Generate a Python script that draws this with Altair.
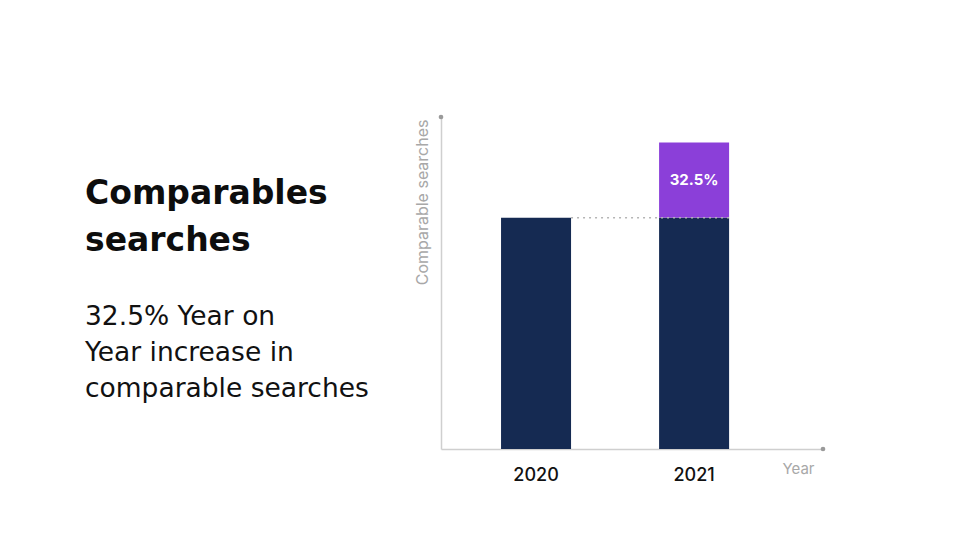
import altair as alt
import pandas as pd

# ---- data ----
years = ["2020", "2021"]
base_values = [100, 100]          # indexed level of comparable searches
increase_values = [0, 32.5]       # year-on-year increase on top of the base
increase_labels = ["", "32.5%"]
segments = ["Base", "Increase"]
segment_colors = ["#152a52", "#8b3fd9"]

title_lines = "Comparables\nsearches"
subtitle_lines = "32.5% Year on\nYear increase in\ncomparable searches"

rows = []
for yr, b, inc, lab in zip(years, base_values, increase_values, increase_labels):
    rows.append({"year": yr, "segment": "Base", "start": 0, "end": b, "label": ""})
    if inc > 0:
        rows.append({"year": yr, "segment": "Increase", "start": b, "end": b + inc, "label": lab})
bars_df = pd.DataFrame(rows)
level_df = pd.DataFrame({"year": years, "start": [base_values[0]] * len(years)})

FONT = "Inter"
PROSE_FONT = "DejaVu Sans"

x_enc = alt.X(
    "year:N",
    title="Year",
    scale=alt.Scale(paddingInner=0.557, paddingOuter=0.487, align=0.39),
)
y_scale = alt.Scale(domain=[0, 143.5])

bars = alt.Chart(bars_df).mark_bar().encode(
    x=x_enc,
    y=alt.Y("start:Q", title="Comparable searches", scale=y_scale),
    y2="end:Q",
    color=alt.Color("segment:N", scale=alt.Scale(domain=segments, range=segment_colors), legend=None),
)

level_line = alt.Chart(level_df).mark_line(
    color="#b5b5b5", strokeDash=[2, 4], strokeWidth=1.5
).encode(
    x=alt.X("year:N", title="Year", bandPosition=1),
    y=alt.Y("start:Q", title="Comparable searches", scale=y_scale),
)

labels = alt.Chart(bars_df).transform_filter(
    alt.datum.label != ""
).transform_calculate(
    mid="(datum.start + datum.end) / 2"
).mark_text(
    color="white", font=FONT, fontSize=15, fontWeight="bold", baseline="middle"
).encode(
    x=alt.X("year:N", title="Year"),
    y=alt.Y("mid:Q", title="Comparable searches", scale=y_scale),
    text="label:N",
)

one = alt.Data(values=[{}])
top_dot = alt.Chart(one).mark_point(filled=True, color="#9a9a9a", size=22, opacity=1).encode(
    x=alt.value(0), y=alt.value(0)
)
right_dot = alt.Chart(one).mark_point(filled=True, color="#9a9a9a", size=22, opacity=1).encode(
    x=alt.value("width"), y=alt.value("height")
)

title_text = alt.Chart(one).mark_text(
    align="left", baseline="alphabetic", font=PROSE_FONT, fontSize=33, fontWeight="bold",
    color="#0d0d0d", lineBreak="\n", lineHeight=47,
).encode(x=alt.value(-356), y=alt.value(87), text=alt.value(title_lines))

subtitle_text = alt.Chart(one).mark_text(
    align="left", baseline="alphabetic", font=PROSE_FONT, fontSize=26.5, fontWeight="normal",
    color="#111111", lineBreak="\n", lineHeight=36,
).encode(x=alt.value(-356), y=alt.value(208), text=alt.value(subtitle_lines))

chart = alt.layer(
    bars, level_line, labels, top_dot, right_dot, title_text, subtitle_text
).properties(
    width=382,
    height=332,
    autosize=alt.AutoSizeParams(type="none"),
    padding={"left": 433, "top": 109, "right": 129, "bottom": 80},
    background="white",
).configure_view(
    strokeWidth=0
).configure_axisX(
    labelAngle=0, ticks=False, grid=False,
    domainColor="#cfcfcf", domainWidth=1.5,
    labelFont=FONT, labelFontSize=18, labelFontWeight=500, labelColor="#111111",
    labelPadding=17,
    titleFont=FONT, titleFontSize=15, titleFontWeight="normal", titleColor="#a8a8a8",
    titleX=357, titleY=19, titleAlign="center", titleBaseline="middle",
).configure_axisY(
    labels=False, ticks=False, grid=False,
    domainColor="#cfcfcf", domainWidth=1.5,
    titleFont=FONT, titleFontSize=16, titleFontWeight="normal", titleColor="#a8a8a8",
    titleAngle=270, titleX=-14, titleY=2, titleAlign="right", titleBaseline="alphabetic",
)

chart.save("out.html", embed_options={"renderer": "svg", "actions": False})
